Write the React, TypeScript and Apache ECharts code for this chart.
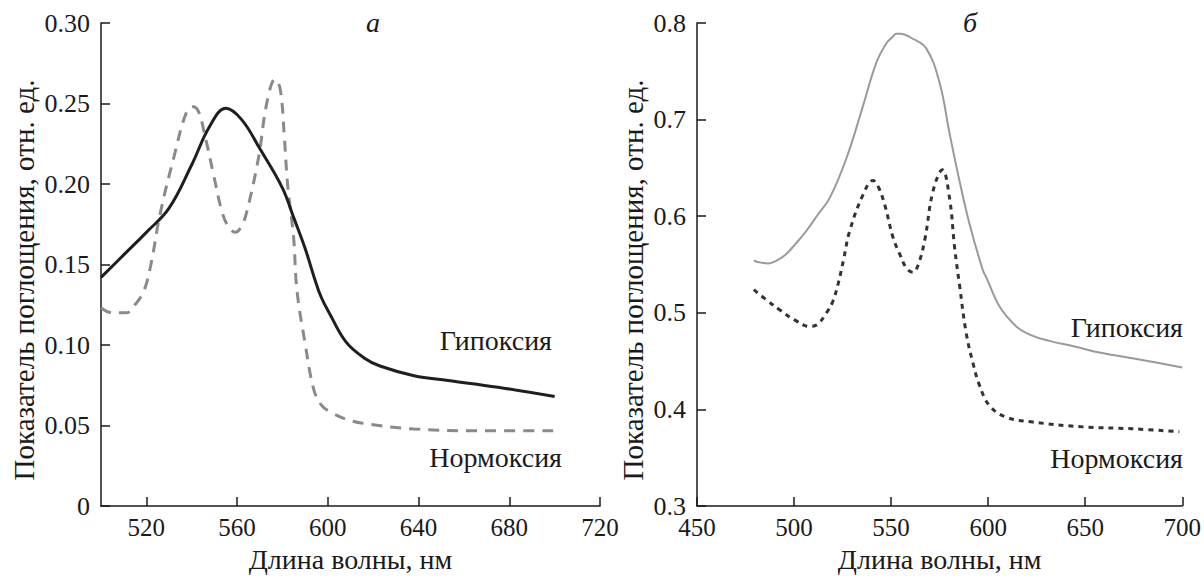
import React, { useEffect, useRef } from "react";
import * as echarts from "echarts";

// Panel "а" (left)
const hypoxiaA: [number, number][] = [
  [500, 0.142], [510, 0.156], [520, 0.170], [530, 0.185], [540, 0.212], [548, 0.236],
  [555, 0.247], [562, 0.240], [570, 0.222], [580, 0.1975], [585, 0.179], [590, 0.160],
  [594, 0.142], [597, 0.130], [601, 0.119], [608, 0.102], [616, 0.092], [623, 0.087],
  [638, 0.081], [653, 0.078], [675, 0.0738], [700, 0.068],
];
const normoxiaA: [number, number][] = [
  [500, 0.123], [505, 0.120], [511, 0.120], [515, 0.125], [519, 0.134], [522, 0.150],
  [526, 0.181], [532, 0.216], [537.8, 0.245], [540.7, 0.248], [543, 0.245], [545.2, 0.234],
  [549.6, 0.206], [553.3, 0.183], [556, 0.174], [559.2, 0.170], [562, 0.174], [564.3, 0.183],
  [569.4, 0.216], [573.2, 0.251], [576.8, 0.265], [579, 0.259], [580.8, 0.230],
  [582.3, 0.199], [584.9, 0.167], [586.4, 0.134], [590, 0.101], [593.7, 0.073],
  [597, 0.063], [601, 0.0585], [608, 0.054], [616, 0.0513], [638, 0.0479], [667, 0.0468],
  [700, 0.0468],
];
// Panel "б" (right)
const hypoxiaB: [number, number][] = [
  [479.3, 0.554], [483, 0.552], [486.7, 0.551], [491, 0.554], [496, 0.561], [501, 0.572],
  [506.4, 0.585], [512, 0.601], [518.4, 0.619], [527, 0.660], [535.5, 0.714], [542.4, 0.759],
  [547.6, 0.779], [551, 0.786], [552.5, 0.789], [555, 0.789], [560, 0.785], [568, 0.774],
  [575, 0.738], [580, 0.687], [585.3, 0.636], [590.4, 0.592], [597.3, 0.544], [599, 0.537],
  [605.9, 0.5065], [614.5, 0.486], [622, 0.477], [631.6, 0.471], [645, 0.465],
  [657.3, 0.459], [680, 0.451], [700, 0.4435],
];
const normoxiaB: [number, number][] = [
  [479.3, 0.524], [486, 0.513], [492.7, 0.503], [500, 0.493], [508, 0.486], [512, 0.488],
  [516.7, 0.500], [520, 0.512], [522.7, 0.530], [525.5, 0.555], [528.7, 0.585], [535.5, 0.622],
  [540.7, 0.637], [543.5, 0.630], [546.7, 0.612], [551, 0.578], [554.4, 0.561], [558, 0.546],
  [561.3, 0.542], [564, 0.550], [567.3, 0.575], [571.6, 0.626], [576.4, 0.648], [580.1, 0.619],
  [582.7, 0.568], [585.3, 0.528], [588.7, 0.479], [592.1, 0.4486], [595.6, 0.4247],
  [600.7, 0.404], [609.3, 0.392], [623, 0.387], [648.7, 0.382], [674.4, 0.380], [698.5, 0.377],
];
const xTicksA = [520, 560, 600, 640, 680, 720];
const yTicksA = [0, 0.05, 0.1, 0.15, 0.2, 0.25, 0.3];

const FONT = "Liberation Serif";
const INK = "#1a1a1a";

export default function App() {
  const ref = useRef<HTMLDivElement>(null);
  useEffect(() => {
    document.body.style.margin = "0";
    const chart = echarts.init(ref.current!, null, { renderer: "svg" });
    const axisLine = { show: true, lineStyle: { color: INK, width: 1.5 } };
    const axisTick = { show: true, inside: true, length: 9, lineStyle: { color: INK, width: 1.5 } };
    const xLabel = { color: INK, fontFamily: FONT, fontSize: 25, margin: 9 };
    const yLabel = { color: INK, fontFamily: FONT, fontSize: 26, margin: 11 };
    const nameStyle = { color: INK, fontFamily: FONT, fontSize: 28 };
    const txt = (text: string, x: number, y: number, size: number, align: string, extra: any = {}) => ({
      type: "text", x, y, ...extra,
      style: { text, fontFamily: FONT, fontSize: size, fill: INK, textAlign: align, textVerticalAlign: "middle", ...(extra.style || {}) },
    });
    chart.setOption({
      animation: false,
      backgroundColor: "#ffffff",
      textStyle: { fontFamily: FONT },
      grid: [
        { left: 101, right: 604, top: 23, bottom: 66 },
        { left: 697, right: 21, top: 23, bottom: 66 },
      ],
      xAxis: [
        {
          type: "value", gridIndex: 0, min: 500, max: 720,
          axisLine, splitLine: { show: false },
          axisTick: { ...axisTick, customValues: xTicksA },
          axisLabel: { ...xLabel, customValues: xTicksA },
          name: "Длина волны, нм", nameLocation: "middle", nameGap: 34, nameTextStyle: nameStyle,
        },
        {
          type: "value", gridIndex: 1, min: 450, max: 700, interval: 50,
          axisLine, splitLine: { show: false }, axisTick,
          axisLabel: xLabel,
          name: "Длина волны, нм", nameLocation: "middle", nameGap: 34, nameTextStyle: nameStyle,
        },
      ],
      yAxis: [
        {
          type: "value", gridIndex: 0, min: 0, max: 0.3,
          axisLine, splitLine: { show: false },
          axisTick: { ...axisTick, customValues: yTicksA },
          axisLabel: {
            ...yLabel, customValues: yTicksA,
            formatter: (v: number) => (v === 0 ? "0" : v.toFixed(2)),
          },
        },
        {
          type: "value", gridIndex: 1, min: 0.3, max: 0.8, interval: 0.1,
          axisLine, splitLine: { show: false }, axisTick,
          axisLabel: { ...yLabel, formatter: (v: number) => v.toFixed(1) },
        },
      ],
      series: [
        {
          type: "line", xAxisIndex: 0, yAxisIndex: 0, data: normoxiaA, smooth: 0.4, showSymbol: false,
          lineStyle: { color: "#8a8a8a", width: 3, type: [11, 8] },
        },
        {
          type: "line", xAxisIndex: 0, yAxisIndex: 0, data: hypoxiaA, smooth: 0.4, showSymbol: false,
          lineStyle: { color: "#1f1f1f", width: 3 },
        },
        {
          type: "line", xAxisIndex: 1, yAxisIndex: 1, data: hypoxiaB, smooth: 0.4, showSymbol: false,
          lineStyle: { color: "#9a9a9a", width: 2 },
        },
        {
          type: "line", xAxisIndex: 1, yAxisIndex: 1, data: normoxiaB, smooth: 0.4, showSymbol: false,
          lineStyle: { color: "#333333", width: 3, type: [5, 5] },
        },
      ],
      graphic: [
        txt("Показатель поглощения, отн. ед.", 24, 280, 29, "center", { rotation: Math.PI / 2 }),
        txt("Показатель поглощения, отн. ед.", 633, 280, 29, "center", { rotation: Math.PI / 2 }),
        txt("а", 373, 22, 28, "center", { style: { fontStyle: "italic" } }),
        txt("б", 970, 22, 28, "center", { style: { fontStyle: "italic" } }),
        txt("Гипоксия", 552, 340, 28, "right"),
        txt("Нормоксия", 562, 457, 28, "right"),
        txt("Гипоксия", 1183, 327, 28, "right"),
        txt("Нормоксия", 1183, 458, 28, "right"),
      ],
    });
    return () => chart.dispose();
  }, []);
  return <div ref={ref} style={{ width: 1204, height: 578 }} />;
}
